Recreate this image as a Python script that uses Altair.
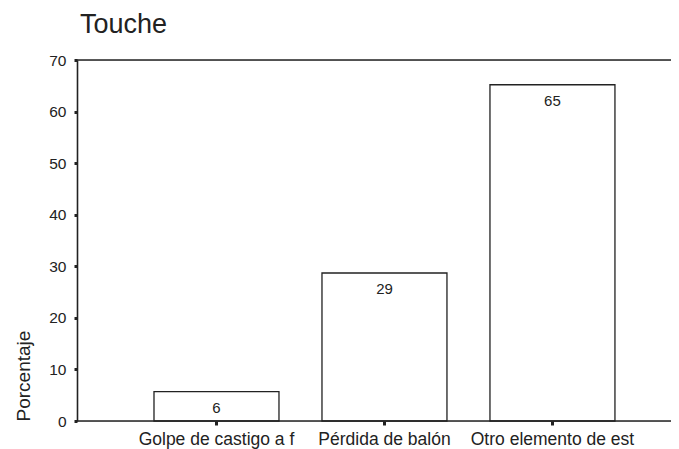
import altair as alt
import pandas as pd

categories = ["Golpe de castigo a f", "Pérdida de balón", "Otro elemento de est"]
values = [5.7, 28.7, 65.2]
y_ticks = [0, 10, 20, 30, 40, 50, 60, 70]
frame_levels = [0, 70]

df = pd.DataFrame({"cat": categories, "pct": values})
frame_df = pd.DataFrame({"pct": frame_levels})

W, H = 594, 361
ink = "#222222"
FONT = "Liberation Sans"

x = alt.X(
    "cat:N",
    sort=categories,
    scale=alt.Scale(paddingInner=0.256, paddingOuter=0.396, align=0.5787),
    axis=alt.Axis(
        title=None, labelAngle=0, labelFontSize=17.5, labelFont=FONT,
        labelColor=ink, domain=False, tickSize=4, tickWidth=3,
        tickColor=ink, labelPadding=5,
    ),
)
y = alt.Y(
    "pct:Q",
    scale=alt.Scale(domain=[0, 70], nice=False),
    axis=alt.Axis(
        title="Porcentaje", values=y_ticks, grid=False, format="d",
        labelFont=FONT, labelFontSize=15.5, labelColor=ink, labelPadding=8,
        tickSize=3, tickWidth=3, tickColor=ink,
        domainColor=ink, domainWidth=1.6,
        titleFont=FONT, titleFontSize=19, titleFontWeight="normal",
        titleColor=ink, titleAngle=270, titleAlign="left",
        titleBaseline="bottom", titleX=-44, titleY=H,
    ),
)

bars = alt.Chart(df).mark_bar(fill="white", stroke=ink, strokeWidth=1.3).encode(x=x, y=y)

labels = alt.Chart(df).mark_text(
    baseline="middle", dy=16, fontSize=15, font=FONT, color=ink
).encode(
    x=alt.X("cat:N", sort=categories),
    y=alt.Y("pct:Q"),
    text=alt.Text("pct:Q", format=".0f"),
)

frame = alt.Chart(frame_df).mark_rule(color=ink, strokeWidth=1.6).encode(
    y=alt.Y("pct:Q"),
    x=alt.value(0),
    x2=alt.value(W),
)

chart = alt.layer(bars, labels, frame).properties(
    width=W,
    height=H,
    autosize=alt.AutoSizeParams(type="none"),
    padding={"left": 69, "top": 52, "right": 0, "bottom": 28},
    title=alt.Title(
        "Touche", anchor="start", frame="group", fontSize=27, font=FONT,
        fontWeight="normal", color=ink, baseline="alphabetic", offset=-7, dx=3,
    ),
).configure_view(stroke=None).configure(background="white")

chart.save("out.html", embed_options={"renderer": "svg", "actions": False})
